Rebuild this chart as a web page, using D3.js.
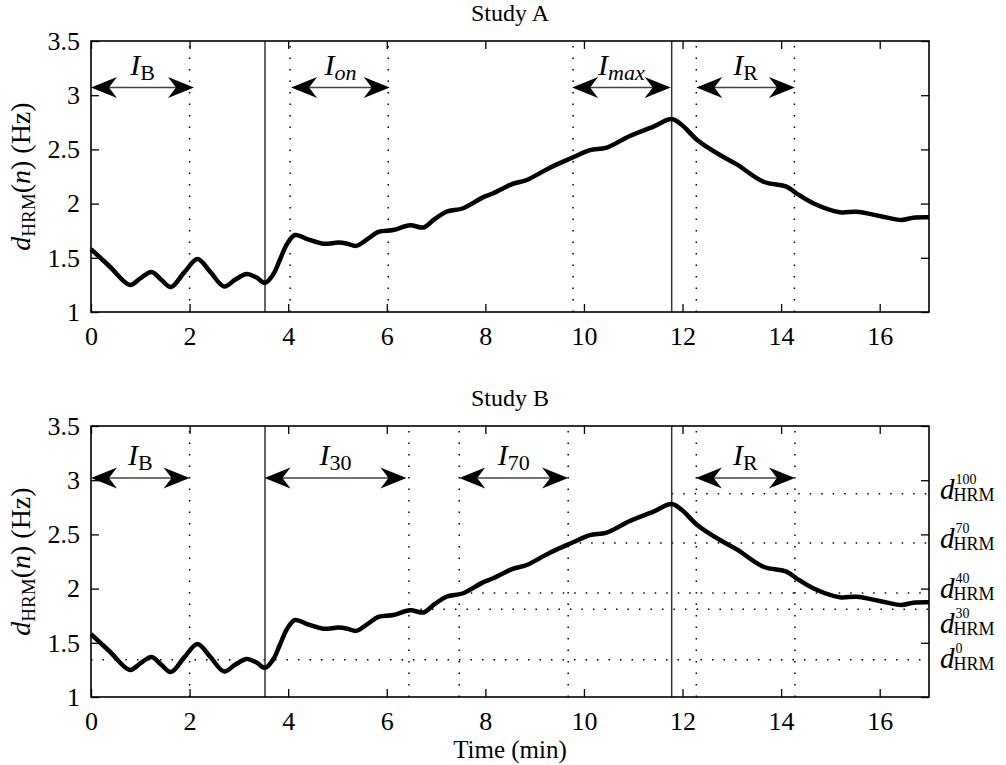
<!DOCTYPE html>
<html>
<head>
<meta charset="utf-8">
<script src="https://cdn.jsdelivr.net/npm/d3@7"></script>
<style>
  body { margin: 0; background: #fff; }
  text { font-family: "Liberation Serif", "Times New Roman", serif; fill: #000; }
</style>
</head>
<body>
<svg id="chart" width="1006" height="765"></svg>
<script>
// heart rate measure, same trace shown in both studies
var times  = [0, 0.38, 0.79, 1.0, 1.23, 1.42, 1.62, 1.9, 2.16, 2.42, 2.70, 2.93, 3.16, 3.35, 3.53, 3.7, 3.83, 3.98, 4.14, 4.4,
              4.71, 5.02, 5.2, 5.38, 5.6, 5.83, 6.13, 6.47, 6.75, 6.95, 7.21, 7.55, 7.96, 8.16, 8.53, 8.84, 9.31, 9.78, 10.12, 10.46,
              10.93, 11.41, 11.78, 12.0, 12.29, 12.76, 13.10, 13.64, 14.11, 14.31, 14.65, 15.19, 15.53, 16.0, 16.44, 16.68, 17.0];
var values = [1.58, 1.42, 1.25, 1.31, 1.37, 1.30, 1.23, 1.37, 1.49, 1.37, 1.235, 1.30, 1.35, 1.32, 1.27, 1.35, 1.48, 1.63, 1.71, 1.67,
              1.63, 1.64, 1.63, 1.61, 1.67, 1.74, 1.756, 1.80, 1.78, 1.85, 1.925, 1.957, 2.06, 2.095, 2.178, 2.218, 2.331, 2.427, 2.494, 2.516,
              2.624, 2.71, 2.78, 2.72, 2.59, 2.448, 2.362, 2.202, 2.156, 2.095, 2.003, 1.92, 1.925, 1.886, 1.849, 1.87, 1.874];

var xTicks = [0, 2, 4, 6, 8, 10, 12, 14, 16];
var yTicks = [1, 1.5, 2, 2.5, 3, 3.5];
var titles = ["Study A", "Study B"];

var solidTimes = [3.53, 11.78];
var dottedA = [2.0, 4.04, 6.03, 9.78, 12.28, 14.27];
var dottedB = [2.0, 6.45, 7.47, 9.68, 12.28, 14.28];

var arrowsA = [
  {sub: "B",   italic: false, from: 0,    to: 2.09},
  {sub: "on",  italic: true,  from: 4.06, to: 6.06},
  {sub: "max", italic: true,  from: 9.76, to: 11.76},
  {sub: "R",   italic: false, from: 12.28, to: 14.28}
];
var arrowsB = [
  {sub: "B",  italic: false, from: 0,    to: 2.0},
  {sub: "30", italic: false, from: 3.52, to: 6.4},
  {sub: "70", italic: false, from: 7.47, to: 9.68},
  {sub: "R",  italic: false, from: 12.27, to: 14.28}
];
var arrowLevels = [3.07, 3.02];

// percentage levels of study B
var levelNames  = ["0", "30", "40", "70", "100"];
var levelValues = [1.344, 1.81, 1.96, 2.42, 2.874];
var levelStarts = [0, 6.45, 7.47, 9.68, 11.78];

var svg = d3.select("#chart")
  , left = 91
  , right = 929
  , panelHeight = 271
  , panelTops = [41, 426]
  , tick = 8;

var x = d3.scaleLinear().domain([0, 17]).range([left, right]);

var series = times.map(function(t, i){ return {t: t, v: values[i]}; });

function arrowHead(tipX, y, dir){
  // dir = -1 points left, 1 points right
  var len = 26, half = 10.5, notch = 18;
  return "M" + tipX + "," + y +
    "L" + (tipX - dir*len) + "," + (y - half) +
    "L" + (tipX - dir*notch) + "," + y +
    "L" + (tipX - dir*len) + "," + (y + half) + "Z";
}

panelTops.forEach(function(top, p){
  var y = d3.scaleLinear().domain([1, 3.5]).range([top + panelHeight, top]);
  var g = svg.append("g").attr("class", "panel-" + p);

  // title
  g.append("text")
    .attr("x", (left + right)/2)
    .attr("y", top - 20)
    .attr("text-anchor", "middle")
    .style("font-size", "24px")
    .text(titles[p]);

  // dotted vertical markers
  var dotted = p == 0 ? dottedA : dottedB;
  g.selectAll(".vdot")
    .data(dotted)
   .enter().append("line")
    .attr("x1", d => x(d)).attr("x2", d => x(d))
    .attr("y1", top + panelHeight).attr("y2", top)
    .attr("stroke", "#000")
    .attr("stroke-width", 1.5)
    .attr("stroke-dasharray", "1.5,10");

  // horizontal levels (study B only)
  if (p == 1){
    g.selectAll(".hdot")
      .data(levelValues)
     .enter().append("line")
      .attr("x1", (d, i) => x(levelStarts[i])).attr("x2", right)
      .attr("y1", d => y(d)).attr("y2", d => y(d))
      .attr("stroke", "#000")
      .attr("stroke-width", 1.5)
      .attr("stroke-dasharray", "1.5,10");
  }

  // solid verticals
  g.selectAll(".vsolid")
    .data(solidTimes)
   .enter().append("line")
    .attr("x1", d => x(d)).attr("x2", d => x(d))
    .attr("y1", top + panelHeight).attr("y2", top)
    .attr("stroke", "#333")
    .attr("stroke-width", 1.5);

  // axes, ticks pointing inward on all four sides
  g.append("g")
    .attr("transform", "translate(0," + (top + panelHeight) + ")")
    .call(d3.axisBottom(x).tickValues(xTicks).tickSize(-tick).tickPadding(15).tickFormat(d => d));
  g.append("g")
    .attr("transform", "translate(" + left + ",0)")
    .call(d3.axisLeft(y).tickValues(yTicks).tickSize(-tick).tickPadding(11).tickFormat(d => d));
  g.append("g")
    .attr("transform", "translate(0," + top + ")")
    .call(d3.axisTop(x).tickValues(xTicks).tickSize(-tick).tickFormat(""));
  g.append("g")
    .attr("transform", "translate(" + right + ",0)")
    .call(d3.axisRight(y).tickValues(yTicks).tickSize(-tick).tickFormat(""));
  g.selectAll(".domain").remove();
  g.selectAll(".tick line").attr("stroke", "#000").attr("stroke-width", 1.3);
  g.selectAll(".tick text")
    .style("font-family", "Liberation Serif")
    .style("font-size", "26px")
    .attr("fill", "#000");

  // box
  g.append("rect")
    .attr("x", left).attr("y", top)
    .attr("width", right - left).attr("height", panelHeight)
    .attr("fill", "none")
    .attr("stroke", "#000")
    .attr("stroke-width", 1.6);

  // trace
  var line = d3.line()
    .x(d => x(d.t))
    .y(d => y(d.v))
    .curve(d3.curveCatmullRom.alpha(0.5));
  g.append("path")
    .datum(series)
    .attr("d", line)
    .attr("fill", "none")
    .attr("stroke", "#000")
    .attr("stroke-width", 4.5)
    .attr("stroke-linejoin", "round");

  // interval arrows
  var arrows = p == 0 ? arrowsA : arrowsB
    , ay = y(arrowLevels[p]);
  arrows.forEach(function(a){
    var x1 = x(a.from), x2 = x(a.to);
    g.append("line")
      .attr("x1", x1 + 15).attr("x2", x2 - 15)
      .attr("y1", ay).attr("y2", ay)
      .attr("stroke", "#444")
      .attr("stroke-width", 1.5);
    g.append("path").attr("d", arrowHead(x1, ay, -1)).attr("fill", "#000");
    g.append("path").attr("d", arrowHead(x2, ay, 1)).attr("fill", "#000");

    var lbl = g.append("text")
      .attr("x", (x1 + x2)/2)
      .attr("y", ay - 13)
      .attr("text-anchor", "middle")
      .style("font-size", "30px");
    lbl.append("tspan").style("font-style", "italic").text("I");
    lbl.append("tspan")
      .attr("dy", 5)
      .style("font-size", "22px")
      .style("font-style", a.italic ? "italic" : "normal")
      .text(a.sub);
  });

  // y label
  var yl = g.append("text")
    .attr("transform", "translate(30," + (top + panelHeight/2) + ") rotate(-90)")
    .attr("text-anchor", "middle")
    .style("font-size", "28px");
  yl.append("tspan").style("font-style", "italic").text("d");
  yl.append("tspan").attr("dy", 5).style("font-size", "19px").text("HRM");
  yl.append("tspan").attr("dy", -5).text("(");
  yl.append("tspan").style("font-style", "italic").text("n");
  yl.append("tspan").text(") (Hz)");

  // level labels on the right of study B, pushed apart when they crowd
  if (p == 1){
    var minGap = 35, last = -Infinity;
    var ys = levelValues.map(v => y(v) + 5).sort((a, b) => a - b)
      .map(function(b){ var yy = Math.max(b, last + minGap); last = yy; return yy; });
    var order = levelValues.map((v, i) => i).sort((a, b) => y(levelValues[a]) - y(levelValues[b]));
    order.forEach(function(idx, k){
      var by = ys[k];
      var dTxt = g.append("text")
        .attr("x", 940).attr("y", by)
        .style("font-size", "29px")
        .style("font-style", "italic")
        .text("d");
      var w = dTxt.node().getComputedTextLength();
      g.append("text")
        .attr("x", 940 + w + 1).attr("y", by - 15)
        .style("font-size", "14px")
        .text(levelNames[idx]);
      g.append("text")
        .attr("x", 940 + w - 1).attr("y", by + 2)
        .style("font-size", "18px")
        .text("HRM");
    });
  }

  // x label under the lower panel
  if (p == 1){
    g.append("text")
      .attr("x", (left + right)/2)
      .attr("y", 758)
      .attr("text-anchor", "middle")
      .style("font-size", "25px")
      .text("Time (min)");
  }
});
</script>
</body>
</html>
